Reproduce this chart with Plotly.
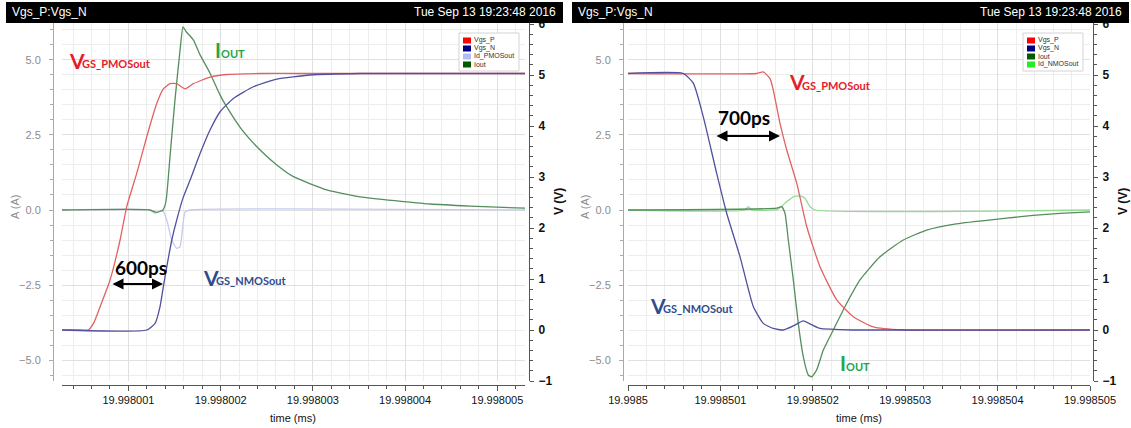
import plotly.graph_objects as go

W, H = 1131, 428

# ---------------- data (time in ns after the panel's base time) ----------------
# Left panel: turn-on transition, base 19.998 ms
L_T_VGSP = [0.28, 0.475, 0.565, 0.627, 0.692, 0.801, 0.909, 0.982, 1.090, 1.199, 1.307, 1.379,
            1.451, 1.524, 1.614, 1.704, 1.885, 2.066, 2.428, 2.861, 5.30]
L_VGSP = [0, 0, 0, 0.15, 0.45, 0.98, 1.76, 2.42, 3.07, 3.79, 4.44, 4.73,
          4.83, 4.83, 4.73, 4.83, 4.96, 5.01, 5.03, 5.03, 5.03]

L_T_VGSN = [0.28, 1.199, 1.289, 1.343, 1.379, 1.416, 1.470, 1.524, 1.596, 1.669, 1.777, 1.885,
            1.994, 2.138, 2.355, 2.609, 2.970, 3.512, 5.30]
L_VGSN = [0, 0, 0.13, 0.46, 0.85, 1.24, 1.76, 2.16, 2.61, 2.94, 3.46, 3.92,
          4.28, 4.54, 4.77, 4.92, 5.00, 5.03, 5.03]

L_T_IOUT = [0.28, 1.234, 1.307, 1.375, 1.408, 1.451, 1.505, 1.560, 1.592, 1.625, 1.704, 1.777,
            1.885, 1.994, 2.066, 2.247, 2.428, 2.609, 2.789, 3.151, 3.512, 4.271, 4.705, 5.30]
L_IOUT = [0, 0, -0.08, 0, 0.3, 1.78, 3.67, 5.33, 6.1, 5.95, 5.67, 5.17,
          4.56, 3.83, 3.44, 2.61, 2.0, 1.5, 1.11, 0.67, 0.44, 0.2, 0.13, 0.06]

L_T_IDP = [0.28, 1.234, 1.289, 1.343, 1.379, 1.416, 1.470, 1.524, 1.560, 1.589, 1.614, 1.668, 5.30]
L_IDP = [0, 0, -0.11, -0.02, -0.05, -0.33, -1.0, -1.28, -1.22, -0.56, -0.06, 0, 0]

L_TICKVALS = [1, 2, 3, 4, 5]
L_TICKTEXT = ["19.998001", "19.998002", "19.998003", "19.998004", "19.998005"]

# Right panel: turn-off transition, base 19.9985 ms
R_T_VGSP = [0, 1.393, 1.464, 1.537, 1.573, 1.645, 1.718, 1.826, 1.934, 2.078, 2.259, 2.438,
            2.655, 2.979, 5.0]
R_VGSP = [5.03, 5.03, 5.06, 4.93, 4.7, 4.05, 3.53, 2.88, 2.03, 1.24, 0.59, 0.26, 0.06, 0, 0]

R_T_VGSN = [0, 0.598, 0.707, 0.815, 0.960, 1.068, 1.212, 1.356, 1.464, 1.573, 1.681, 1.789,
            1.897, 1.991, 2.078, 2.438, 5.0]
R_VGSN = [5.03, 5.03, 4.84, 4.18, 3.07, 2.29, 1.44, 0.46, 0.13, 0.03, 0.0, 0.08,
          0.18, 0.1, 0.03, 0, 0]

R_T_IOUT = [0, 1.609, 1.663, 1.699, 1.735, 1.789, 1.843, 1.897, 1.951, 1.988, 2.042, 2.114,
            2.222, 2.367, 2.511, 2.727, 2.979, 3.232, 3.520, 3.810, 4.383, 4.675, 5.0]
R_IOUT = [0, 0.06, 0.11, -0.11, -1.0, -2.33, -3.78, -4.89, -5.5, -5.56, -5.33, -4.67,
          -4.0, -3.11, -2.33, -1.56, -1.0, -0.67, -0.48, -0.37, -0.18, -0.11, -0.06]

R_T_IDN = [0, 1.266, 1.302, 1.342, 1.623, 1.718, 1.789, 1.861, 1.915, 1.970, 2.024, 5.0]
R_IDN = [0, 0, 0.11, 0, 0.03, 0.28, 0.44, 0.47, 0.39, 0.11, 0, 0]

R_TICKVALS = [0, 1, 2, 3, 4, 5]
R_TICKTEXT = ["19.9985", "19.998501", "19.998502", "19.998503", "19.998504", "19.998505"]

LEFT_LEGEND = ["Vgs_P", "Vgs_N", "Id_PMOSout", "Iout"]
RIGHT_LEGEND = ["Vgs_P", "Vgs_N", "Iout", "Id_NMOSout"]
TITLE = "Vgs_P:Vgs_N"
DATE = "Tue Sep 13 19:23:48 2016"

# ---------------- styling ----------------
C_RED, C_BLUE, C_GREEN = "#e26262", "#50509e", "#558e5c"
C_LAV, C_LGREEN = "#c4caef", "#92dc92"
SW_RED, SW_BLUE, SW_LAV, SW_DGREEN, SW_LGREEN = "#ff0000", "#00007f", "#b4bcf4", "#005a00", "#22ee22"

def fx(px):
    return px / W

def fy(py):
    return 1 - py / H

fig = go.Figure()

def line(x, y, color, xa, ya, w=1.3, dash=None):
    fig.add_trace(go.Scatter(x=x, y=y, mode="lines", xaxis=xa, yaxis=ya, showlegend=False,
                             hoverinfo="skip",
                             line=dict(color=color, width=w, shape="spline", smoothing=0.5,
                                       dash=dash)))

# left panel
line(L_T_IDP, L_IDP, C_LAV, "x", "y")
line(L_T_IOUT, L_IOUT, C_GREEN, "x", "y")
line(L_T_VGSP, L_VGSP, C_RED, "x", "y2")
line(L_T_VGSN, L_VGSN, C_BLUE, "x", "y2")
# right panel
line(R_T_IDN, R_IDN, C_LGREEN, "x2", "y3")
line(R_T_IOUT, R_IOUT, C_GREEN, "x2", "y3")
line(R_T_VGSP, R_VGSP, C_RED, "x2", "y4")
line(R_T_VGSN, R_VGSN, C_BLUE, "x2", "y4")

YDOM = [fy(381), fy(23)]
A_RANGE = [-5.7, 6.233]
V_RANGE = [-1.0, 6.02]
GRID = "#e0e0e0"
MGRID = "#ededed"
FONT = "Liberation Sans"

def xaxis(dom, rng, tv, tt):
    return dict(domain=dom, range=rng, anchor="free", position=fy(385), automargin=False,
                showline=True, linecolor="#555", linewidth=1, ticks="outside", ticklen=5,
                tickcolor="#555", tickmode="array", tickvals=tv, ticktext=tt,
                tickfont=dict(family=FONT, size=11, color="#111"),
                showgrid=True, gridcolor=GRID, zeroline=False,
                minor=dict(tick0=0, dtick=0.2, ticks="outside", ticklen=3, tickcolor="#555",
                           showgrid=True, gridcolor=MGRID))

def a_axis(pos):
    return dict(domain=YDOM, range=A_RANGE, anchor="free", position=pos, automargin=False,
                showline=True, linecolor="#aaa", ticks="outside", ticklen=4, tickcolor="#aaa",
                tick0=0, dtick=2.5, tickformat=".1f",
                tickfont=dict(family=FONT, size=11, color="#8c8c8c"),
                ticklabelstandoff=6,
                showgrid=True, gridcolor=GRID, zeroline=False,
                minor=dict(tick0=0, dtick=0.5, ticks="outside", ticklen=3, tickcolor="#aaa",
                           showgrid=True, gridcolor=MGRID))

def v_axis(pos, over):
    return dict(domain=YDOM, range=V_RANGE, anchor="free", position=pos, overlaying=over,
                automargin=False,
                side="right", showline=True, linecolor="#555", ticks="outside", ticklen=4,
                tickcolor="#555", tick0=0, dtick=1,
                tickfont=dict(family=FONT, size=12, color="#111", weight="bold"),
                ticklabelstandoff=2,
                showgrid=False, zeroline=False,
                minor=dict(tick0=0, dtick=0.2, ticks="outside", ticklen=3, tickcolor="#555",
                           showgrid=False))

shapes = []
ann = []

def text(px, py, s, size, color, xanchor="left", yanchor="middle", family="Lato", weight="bold",
         angle=0):
    ann.append(dict(x=fx(px), y=fy(py), xref="paper", yref="paper", text=s, showarrow=False,
                    xanchor=xanchor, yanchor=yanchor, textangle=angle,
                    font=dict(family=family, size=size, color=color, weight=weight)))

def arrow(x0, x1, py):
    ann.append(dict(x=fx(x1), y=fy(py), xref="paper", yref="paper", text="",
                    showarrow=True, ax=x0 - x1, ay=0, axref="pixel", ayref="pixel",
                    arrowside="end+start", arrowhead=2, arrowsize=1.1, arrowwidth=2,
                    arrowcolor="#000"))

def panel_frame(x0, x1, ax_left, ax_right, dom_mid, leg_x0, leg_x1, labels, swatches):
    # title bar
    shapes.append(dict(type="rect", xref="paper", yref="paper", x0=fx(x0), x1=fx(x1),
                       y0=fy(23), y1=fy(2), fillcolor="#000", line=dict(width=0), layer="above"))
    text(x0 + 4, 12.5, TITLE, 12, "#fff", family=FONT, weight="normal")
    text(x1 - 5, 12.5, DATE, 12, "#fff", xanchor="right", family=FONT, weight="normal")
    # axis titles
    text(ax_left - 38, 207, "A (A)", 11, "#8c8c8c", xanchor="center", family=FONT,
         weight="normal", angle=-90)
    text(ax_right + 30, 202, "V (V)", 12, "#111", xanchor="center", family=FONT,
         weight="bold", angle=-90)
    text(dom_mid, 418, "time (ms)", 11, "#111", xanchor="center", family=FONT, weight="normal")
    # legend box
    shapes.append(dict(type="rect", xref="paper", yref="paper", x0=fx(leg_x0), x1=fx(leg_x1),
                       y0=fy(71), y1=fy(33), fillcolor="#fff",
                       line=dict(color="#d4d4d4", width=1), layer="above"))
    for i, (lab, col) in enumerate(zip(labels, swatches)):
        cy = 40.5 + i * 8
        shapes.append(dict(type="rect", xref="paper", yref="paper", x0=fx(leg_x0 + 4),
                           x1=fx(leg_x0 + 12), y0=fy(cy + 3), y1=fy(cy - 3), fillcolor=col,
                           line=dict(width=0), layer="above"))
        text(leg_x0 + 13, cy, lab, 7, "#333", family=FONT, weight="normal")

panel_frame(6, 563, 53, 529, 293, 459, 519, LEFT_LEGEND, [SW_RED, SW_BLUE, SW_LAV, SW_DGREEN])
panel_frame(572, 1129, 623, 1093, 859, 1023, 1083, RIGHT_LEGEND,
            [SW_RED, SW_BLUE, SW_DGREEN, SW_LGREEN])

RED_T, BLUE_T, GREEN_T = "#e3202a", "#2f4c8c", "#20a64a"

def vlabel(px, py, sub, color):
    text(px, py, "V", 21, color)
    text(px + 13, py + 3.5, sub, 11, color)

# left annotations
vlabel(67, 60, "GS_PMOSout", RED_T)
text(213, 50, "I", 20, GREEN_T)
text(219, 53.5, "OUT", 11, GREEN_T)
text(113, 267, "600ps", 19, "#000")
arrow(111, 163, 284)
vlabel(201, 277, "GS_NMOSout", BLUE_T)
# right annotations
vlabel(787, 82, "GS_PMOSout", RED_T)
text(716, 117, "700ps", 19, "#000")
arrow(715, 780, 136)
vlabel(648, 305, "GS_NMOSout", BLUE_T)
text(838, 363, "I", 20, GREEN_T)
text(844, 366.5, "OUT", 11, GREEN_T)

fig.update_layout(
    template="none",
    width=W, height=H, margin=dict(l=0, r=0, t=0, b=0, pad=0), autosize=False,
    paper_bgcolor="#fff", plot_bgcolor="#fff", showlegend=False,
    xaxis=xaxis([fx(62), fx(525)], [0.28, 5.30], L_TICKVALS, L_TICKTEXT),
    yaxis=a_axis(fx(53)),
    yaxis2=v_axis(fx(529), "y"),
    xaxis2=xaxis([fx(628), fx(1090)], [0, 5.0], R_TICKVALS, R_TICKTEXT),
    yaxis3=a_axis(fx(623)),
    yaxis4=v_axis(fx(1093), "y3"),
    shapes=shapes, annotations=ann,
)
fig.write_html("out.html", config={"displayModeBar": False},
               post_script="document.body.style.margin='0px';"
                           "document.body.style.overflow='hidden';")
